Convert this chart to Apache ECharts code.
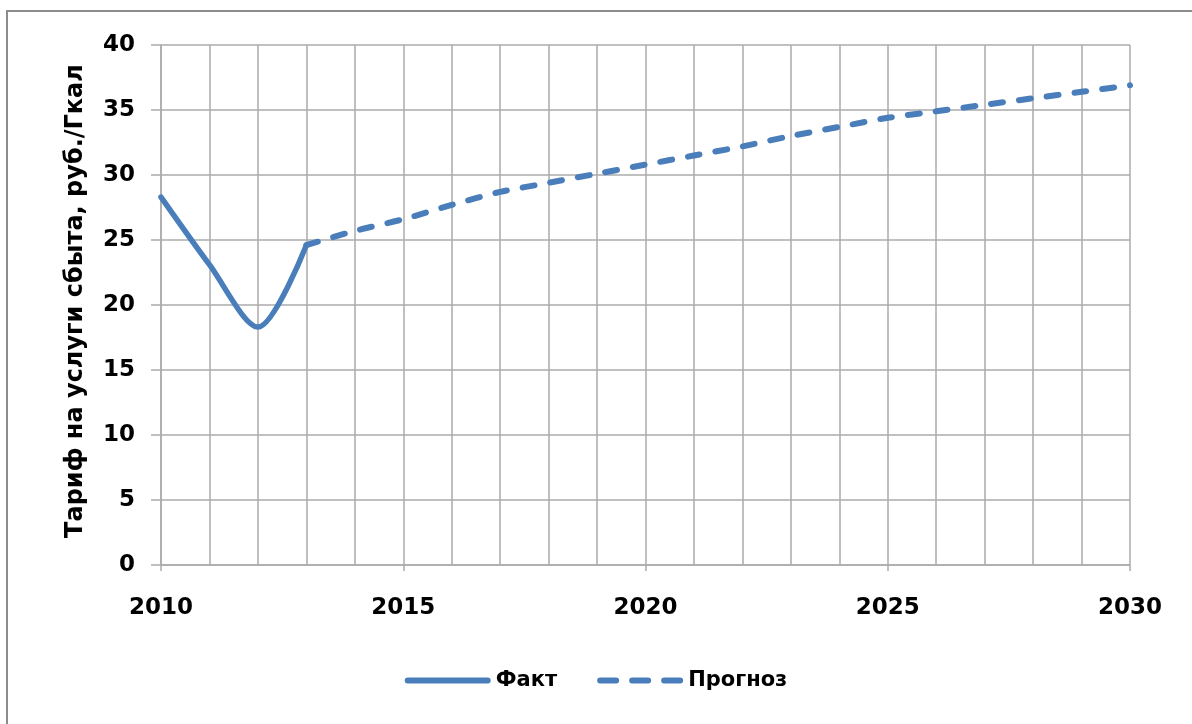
<!DOCTYPE html>
<html>
<head>
<meta charset="utf-8">
<script src="https://cdn.jsdelivr.net/npm/echarts@6/dist/echarts.min.js"></script>
<style>
  html, body { margin: 0; padding: 0; background: #ffffff; }
  #chart { width: 1192px; height: 724px; }
</style>
</head>
<body>
<div id="chart"></div>
<script>
// Tariff for sales services, actual values and forecast
const factYears = [2010, 2011, 2012, 2013];
const factValues = [28.3, 23.1, 18.3, 24.6];

const forecastYears = [2013, 2014, 2015, 2016, 2017, 2018, 2019, 2020, 2021, 2022,
  2023, 2024, 2025, 2026, 2027, 2028, 2029, 2030];
const forecastValues = [24.6, 25.7, 26.6, 27.7, 28.7, 29.4, 30.1, 30.8, 31.5, 32.2,
  33.0, 33.7, 34.4, 34.9, 35.4, 35.9, 36.4, 36.9];

const seriesNames = ['Факт', 'Прогноз'];
const yTitle = 'Тариф на услуги сбыта, руб./Гкал';

const pairs = (xs, ys) => xs.map((x, i) => [x, ys[i]]);

const FONT = 'DejaVu Sans';
const BLUE = '#4a7ebb';
const GRID = '#ababab';

// legend glyphs: a solid bar and three dashes
const ICON_SOLID = 'path://M3,0H83A3,3 0 0 1 83,6H3A3,3 0 0 1 3,0Z';
const ICON_DASHED = 'path://M3,0H19A3,3 0 0 1 19,6H3A3,3 0 0 1 3,0Z' +
  'M35,0H51A3,3 0 0 1 51,6H35A3,3 0 0 1 35,0Z' +
  'M67,0H83A3,3 0 0 1 83,6H67A3,3 0 0 1 67,0Z';

const chart = echarts.init(document.getElementById('chart'), null, { renderer: 'canvas' });

chart.setOption({
  animation: false,
  backgroundColor: '#ffffff',
  textStyle: { fontFamily: FONT },
  grid: { left: 161, right: 62, top: 45, bottom: 159, containLabel: false },
  graphic: [
    {
      type: 'rect',
      shape: { x: 7, y: 11, width: 1300, height: 800 },
      style: { fill: 'none', stroke: '#8c8c8c', lineWidth: 2 },
      silent: true
    },
    {
      type: 'text',
      x: 76, y: 301,
      rotation: Math.PI / 2,
      style: {
        text: yTitle,
        fontFamily: FONT, fontWeight: 'bold', fontSize: 24,
        fill: '#000000', align: 'center', verticalAlign: 'middle'
      },
      silent: true
    }
  ],
  legend: {
    bottom: 28,
    left: 'center',
    itemWidth: 86,
    itemHeight: 6,
    itemGap: 40,
    textStyle: { fontFamily: FONT, fontWeight: 'bold', fontSize: 21, color: '#000' },
    data: [
      { name: seriesNames[0], icon: ICON_SOLID },
      { name: seriesNames[1], icon: ICON_DASHED }
    ]
  },
  xAxis: {
    type: 'value',
    min: 2010, max: 2030, interval: 5,
    axisLine: { show: true, onZero: false, lineStyle: { color: GRID, width: 1.5 } },
    axisTick: { show: true, length: 6, lineStyle: { color: GRID, width: 1.5 } },
    minorTick: { show: false, splitNumber: 5 },
    axisLabel: {
      fontFamily: FONT, fontWeight: 'bold', fontSize: 23, color: '#000',
      margin: 32,
      formatter: v => String(v)
    },
    splitLine: { show: true, lineStyle: { color: GRID, width: 1.5 } },
    minorSplitLine: { show: true, lineStyle: { color: GRID, width: 1.5 } }
  },
  yAxis: {
    type: 'value',
    min: 0, max: 40, interval: 5,
    axisLine: { show: true, lineStyle: { color: GRID, width: 1.5 } },
    axisTick: { show: true, length: 10, lineStyle: { color: GRID, width: 1.5 } },
    axisLabel: {
      fontFamily: FONT, fontWeight: 'bold', fontSize: 23, color: '#000', margin: 26
    },
    splitLine: { show: true, lineStyle: { color: GRID, width: 1.5 } }
  },
  series: [
    {
      name: seriesNames[0],
      type: 'line',
      data: pairs(factYears, factValues),
      smooth: 0.3,
      symbol: 'none',
      lineStyle: { color: BLUE, width: 5.5, cap: 'round', join: 'round' },
      itemStyle: { color: BLUE },
      z: 3
    },
    {
      name: seriesNames[1],
      type: 'line',
      data: pairs(forecastYears, forecastValues),
      smooth: 0.3,
      symbol: 'none',
      lineStyle: { color: BLUE, width: 6, type: [12, 16], cap: 'round' },
      itemStyle: { color: BLUE },
      z: 3
    }
  ]
});
</script>
</body>
</html>
